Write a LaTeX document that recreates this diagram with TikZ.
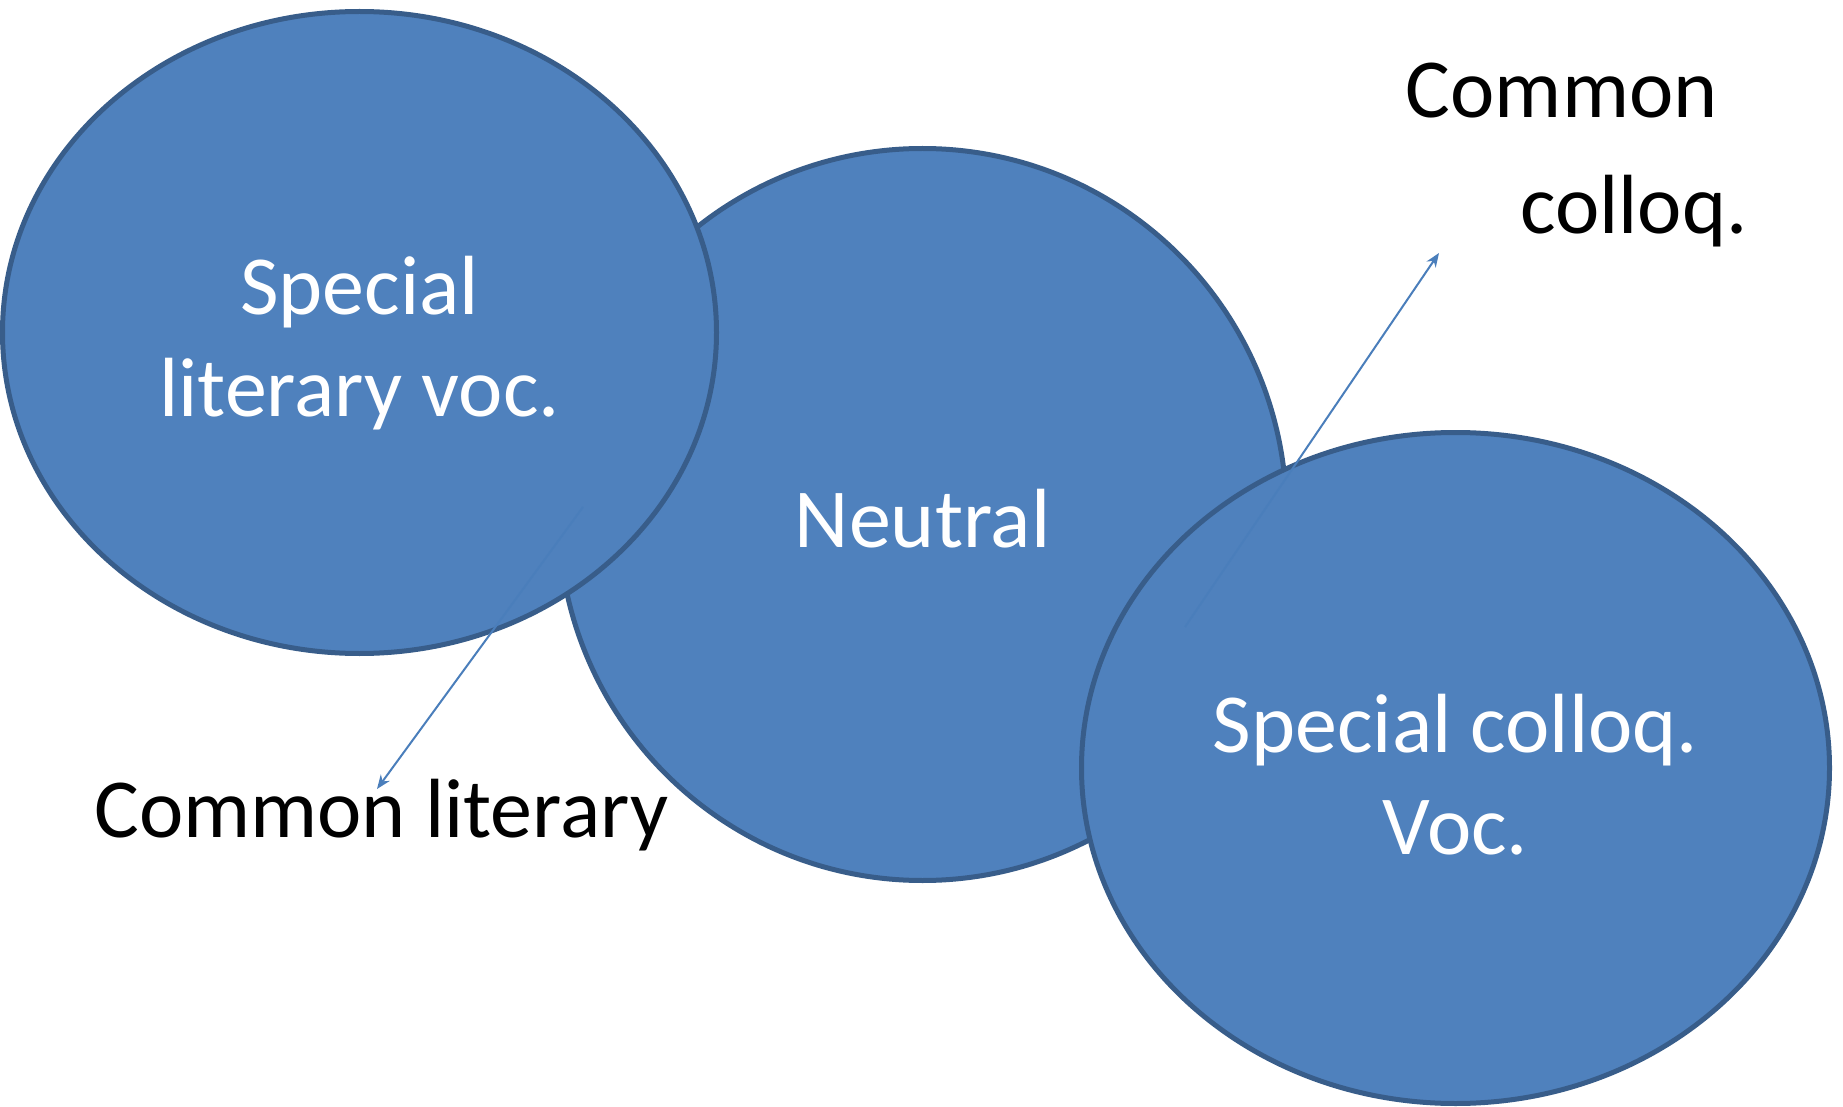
\documentclass[tikz,border=0pt]{standalone}
\usepackage{fontspec}
\setmainfont{Carlito}
\usetikzlibrary{shapes.geometric,arrows.meta}
\definecolor{blobfill}{HTML}{4F81BD}
\definecolor{blobline}{HTML}{385D8A}
\definecolor{arrowblue}{HTML}{4A7EBB}
\begin{document}
\begin{tikzpicture}[x=0.5pt,y=-0.5pt,
  blob/.style={ellipse,draw=blobline,fill=blobfill,line width=2.5pt,inner sep=0pt},
  blobtext/.style={text=white,align=center,inner sep=0pt,font=\fontsize{42}{51}\selectfont},
  lbl/.style={inner sep=0pt,font=\fontsize{42}{51}\selectfont},
  pointer/.style={draw=arrowblue,line width=1pt,-{Stealth[length=7pt,width=5.5pt]}}]
\useasboundingbox (0,0) rectangle (1843,1107);
% the three fields of vocabulary
\node[blob,minimum width=364pt,minimum height=366pt] (neu) at (922.5,514.5) {};
\node[blob,minimum width=357pt,minimum height=321pt] (lit) at (359.5,332.5) {};
\node[blob,minimum width=374pt,minimum height=335.5pt] (col) at (1455.5,768) {};
\node[blobtext,yshift=-2pt] (neutxt) at (neu.center) {Neutral};
\node[blobtext,yshift=-5.25pt] (littxt) at (lit.center) {Special\\literary voc.};
\node[blobtext,yshift=-3.5pt] (coltxt) at (col.center) {Special colloq.\\Voc.};
% pointers to the common layers
\coordinate (litstart) at (583,507);
\coordinate (litend) at (377,789);
\coordinate (colstart) at (1185,627);
\coordinate (colend) at (1439,253);
\draw[pointer] (litstart) -- (litend);
\draw[pointer] (colstart) -- (colend);
\node[lbl,anchor=base west] (comlit) at (94,837) {Common literary};
\node[lbl,anchor=north east,align=right] (comcol) at (1748,63) {Common\hspace*{15pt}\\[7pt]colloq.};
\end{tikzpicture}
\end{document}
